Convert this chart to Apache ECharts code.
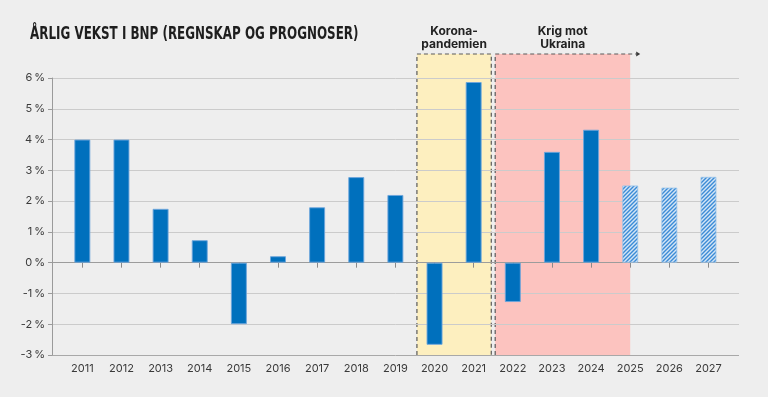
<!DOCTYPE html>
<html>
<head>
<meta charset="utf-8">
<script src="https://cdn.jsdelivr.net/npm/echarts@6/dist/echarts.min.js"></script>
<style>
  html, body { margin: 0; padding: 0; background: #eeeeee; }
  #chart { width: 768px; height: 397px; }
</style>
</head>
<body>
<div id="chart"></div>
<script>
// årlig vekst i BNP, prosent
const years = [2011, 2012, 2013, 2014, 2015, 2016, 2017, 2018, 2019, 2020, 2021, 2022, 2023, 2024, 2025, 2026, 2027];
const growth = [4.0, 4.0, 1.75, 0.73, -2.0, 0.21, 1.8, 2.78, 2.2, -2.67, 5.87, -1.28, 3.6, 4.32, 2.51, 2.44, 2.79];
const forecastFrom = 2025;
const yTicks = [-3, -2, -1, 0, 1, 2, 3, 4, 5, 6];

// perioder som markeres i bakgrunnen
const periodLabels = ['Korona-\npandemien', 'Krig mot\nUkraina'];
const periodStart = [2019.55, 2021.55];
const periodEnd = [2021.45, 2025];
const periodOpen = [false, true];

const periodColors = ['#fdefbf', '#fcc3bf'];

// skravur for prognoser
function hatch() {
  const c = document.createElement('canvas');
  c.width = 4; c.height = 4;
  const ctx = c.getContext('2d');
  ctx.fillStyle = '#d3e5f6';
  ctx.fillRect(0, 0, 4, 4);
  ctx.strokeStyle = '#3b8bd6';
  ctx.lineWidth = 1.4;
  ctx.beginPath();
  ctx.moveTo(0, 4); ctx.lineTo(4, 0);
  ctx.moveTo(-1, 1); ctx.lineTo(1, -1);
  ctx.moveTo(3, 5); ctx.lineTo(5, 3);
  ctx.stroke();
  return c;
}

const myChart = echarts.init(document.getElementById('chart'));

const barData = years.map((y, i) => {
  const item = { value: [y, growth[i]] };
  if (y >= forecastFrom) {
    item.itemStyle = {
      color: { image: hatch(), repeat: 'repeat' },
      borderColor: 'rgba(150,195,235,0.8)'
    };
  }
  return item;
});

const periodData = periodStart.map((s, i) => [s, periodEnd[i], i]);

const dash = { stroke: '#5a5a5a', lineWidth: 1.2, lineDash: [4, 3], fill: null };

myChart.setOption({
  backgroundColor: '#eeeeee',
  animation: false,
  textStyle: { fontFamily: 'Inter, Roboto, sans-serif' },
  // tittel i smal skrift: DejaVu Sans Condensed klemt sammen
  graphic: [{
    type: 'text',
    x: 30,
    y: 26,
    scaleX: 0.78,
    style: {
      text: 'ÅRLIG VEKST I BNP (REGNSKAP OG PROGNOSER)',
      font: "bold 17px 'DejaVu Sans Condensed', 'DejaVu Sans', sans-serif",
      fill: '#1e1e1e',
      verticalAlign: 'top'
    }
  }],
  grid: { left: 52, right: 29, top: 78, bottom: 42, containLabel: false },
  xAxis: {
    type: 'value',
    min: 2010.225,
    max: 2027.78,
    axisLine: { show: false },
    splitLine: { show: false },
    axisTick: {
      show: true,
      customValues: years,
      length: 5,
      lineStyle: { color: '#8a8a8a' }
    },
    axisLabel: {
      customValues: years,
      margin: 8,
      color: '#3a3a3a',
      fontSize: 11,
      formatter: v => String(Math.round(v))
    }
  },
  yAxis: {
    type: 'value',
    min: -3,
    max: 6,
    interval: 1,
    axisLine: { show: true, lineStyle: { color: '#9a9a9a' } },
    axisTick: { show: true, length: 4, lineStyle: { color: '#9a9a9a' } },
    axisLabel: {
      margin: 7,
      color: '#3a3a3a',
      fontSize: 11,
      formatter: v => v + '\u2009%'
    },
    splitLine: {
      lineStyle: {
        color: yTicks.map(v => v === 0 ? '#9c9c9c' : (v === -3 ? '#a8a8a8' : '#cbcbcb')),
        width: 1
      }
    }
  },
  series: [
    {
      type: 'custom',
      z: -1,
      clip: false,
      silent: true,
      data: periodData,
      encode: { x: [0, 1] },
      renderItem: function (params, api) {
        const i = api.value(2);
        const bl = api.coord([api.value(0), -3]);
        const br = api.coord([api.value(1), -3]);
        const top = api.coord([api.value(0), 6])[1] - 24;
        const children = [
          {
            type: 'rect',
            shape: { x: bl[0], y: top, width: br[0] - bl[0], height: bl[1] - top },
            style: { fill: periodColors[i] }
          }
        ];
        if (periodOpen[i]) {
          children.push({
            type: 'polyline',
            shape: { points: [[bl[0], bl[1]], [bl[0], top], [br[0] + 6, top]] },
            style: dash
          });
          children.push({
            type: 'polygon',
            shape: { points: [[br[0] + 6, top - 2.5], [br[0] + 10, top], [br[0] + 6, top + 2.5]] },
            style: { fill: '#3a3a3a' }
          });
        } else {
          children.push({
            type: 'polyline',
            shape: { points: [[bl[0], bl[1]], [bl[0], top], [br[0], top], [br[0], bl[1]]] },
            style: dash
          });
        }
        children.push({
          type: 'text',
          style: {
            text: periodLabels[i],
            x: (bl[0] + br[0]) / 2,
            y: top - 3,
            align: 'center',
            verticalAlign: 'bottom',
            font: 'bold 12px Inter, Roboto, sans-serif',
            lineHeight: 13,
            fill: '#222222'
          }
        });
        return { type: 'group', children: children };
      }
    },
    {
      type: 'bar',
      barWidth: 16,
      data: barData,
      itemStyle: {
        color: '#0070bd',
        borderColor: 'rgba(110,165,220,0.9)',
        borderWidth: 1
      }
    }
  ]
});
</script>
</body>
</html>
